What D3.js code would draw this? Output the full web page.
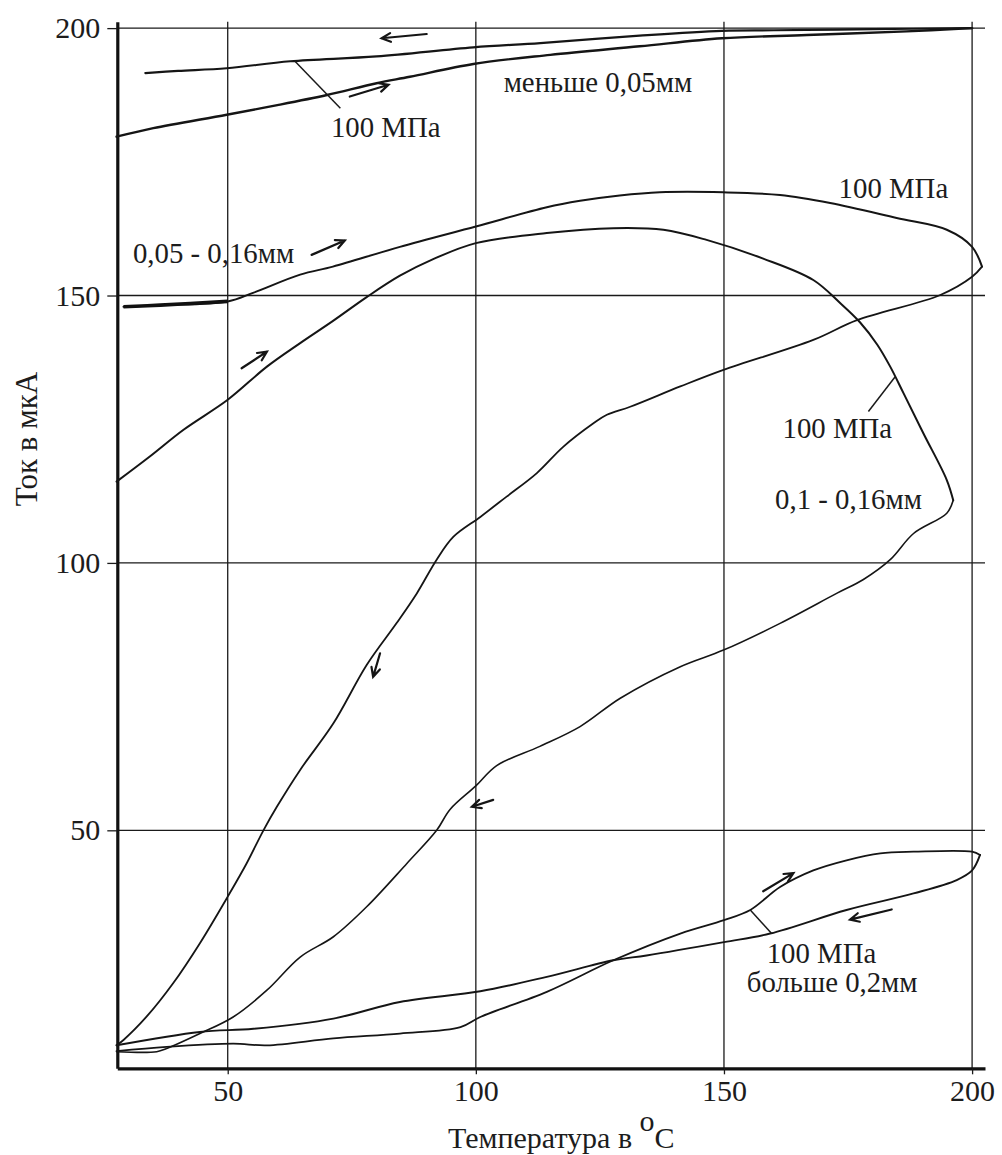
<!DOCTYPE html>
<html>
<head>
<meta charset="utf-8">
<script src="https://cdn.jsdelivr.net/npm/d3@7"></script>
<style>
  html, body { margin: 0; padding: 0; background: #fff; }
  svg { display: block; }
  text { font-family: "Liberation Serif", "Times New Roman", serif; fill: #1c1c1c; }
</style>
</head>
<body>
<svg id="chart" width="1002" height="1155"></svg>
<script>
// Axis ticks
const tempTicks = [50, 100, 150, 200];
const currTicks = [50, 100, 150, 200];

// Grain size below 0.05 mm, 100 MPa
const topHeatT = [27.6, 35, 49.8, 60, 70, 80, 86.7, 99.5, 115, 133, 149.6, 166.7, 186.8, 200];
const topHeatI = [179.7, 181.3, 183.8, 185.6, 187.5, 189.7, 190.9, 193.3, 195.0, 196.6, 198.1, 198.7, 199.4, 200];
const topCoolT = [200, 180, 160, 149.6, 133, 113, 99.5, 80, 62.6, 49.8, 40, 33.4];
const topCoolI = [200, 199.8, 199.6, 199.5, 198.6, 197.2, 196.4, 194.7, 193.8, 192.5, 192.0, 191.6];

// Grain size 0.05 - 0.16 mm, 100 MPa
const midAHeatT = [29, 36.4, 50, 55.1, 64.6, 71.2, 84.7, 100, 114.3, 121, 129, 137.1, 149.8, 161.3, 171.4, 184.8, 194.9, 200, 202];
const midAHeatI = [147.9, 148.2, 148.9, 150.5, 153.9, 155.4, 159.1, 162.9, 166.5, 167.7, 168.7, 169.3, 169.3, 168.8, 167.3, 164.5, 162.3, 159.1, 155.4];
const midACoolT = [202, 200, 193.6, 176.8, 168, 149.9, 141.2, 131.1, 126.4, 123.7, 117.6, 112.3, 106.2, 100.9, 95.5, 92.1, 88.1, 84.0, 78.0, 71.3, 64.6, 59.9, 57.2, 53.8, 50, 44.4, 39, 33.6, 29, 27.6];
const midACoolI = [155.4, 153.5, 150.1, 145.4, 141.7, 136.1, 133.0, 129.2, 127.7, 126.1, 121.7, 116.8, 112.4, 108.6, 104.9, 100.6, 94.3, 88.7, 80.9, 70.0, 61.3, 54.4, 50, 43.8, 37.6, 28.9, 21.4, 15.1, 10.8, 9.8];

// Grain size 0.1 - 0.16 mm, 100 MPa
const midBHeatT = [27.6, 34.3, 41.1, 50, 57.9, 64.6, 71.3, 78, 84.7, 91.4, 100, 114.3, 127.7, 137.8, 146.5, 157.9, 168, 173.4, 177.4, 180.9, 183.5, 186.2, 190.2, 194.9, 196.2];
const midBHeatI = [115.2, 119.9, 124.9, 130.5, 136.7, 141.1, 145.3, 149.7, 153.7, 156.8, 159.8, 161.7, 162.6, 162.3, 160.4, 156.9, 152.9, 148.6, 145.0, 140.8, 136.7, 131.7, 124.2, 115.5, 111.7];
const midBCoolT = [196.2, 194.9, 188.2, 183.5, 178.1, 172.7, 161.3, 149.9, 141.2, 129.1, 121, 112.9, 104.2, 100, 94.8, 92.1, 86.1, 78, 71.3, 64.6, 57.9, 51.1, 44.4, 37.7, 35.7, 27.6];
const midBCoolI = [111.7, 109.3, 105.5, 100.6, 96.9, 94.3, 88.7, 83.7, 80.6, 74.7, 69.4, 65.7, 62.1, 58.3, 53.9, 50, 43.8, 35.7, 30.1, 26.3, 20.1, 15.1, 12.0, 9.2, 8.6, 8.6];

// Grain size above 0.2 mm, 100 MPa
const lowHeatT = [27.6, 37.7, 51.1, 57.9, 71.3, 84.7, 96.9, 100.9, 114.3, 127.7, 141.2, 150, 155.3, 161.3, 168, 174.7, 181.5, 188.2, 200, 201.6];
const lowHeatI = [8.7, 9.5, 10.1, 9.8, 11.1, 12.0, 13.2, 15.1, 19.8, 25.7, 30.7, 33.2, 35.1, 39.4, 42.5, 44.4, 45.7, 46.0, 46.0, 45.4];
const lowCoolT = [201.6, 200, 196.9, 188.2, 174.7, 159.3, 150, 134.4, 127.7, 114.3, 100.9, 84.7, 71.3, 55.2, 44.4, 27.6];
const lowCoolI = [45.4, 42.5, 40.7, 38.2, 35.1, 30.7, 29.1, 26.6, 25.7, 22.6, 19.9, 17.9, 14.8, 12.9, 12.3, 9.8];

// Direction arrows: [tailT, tailI, headT, headI]
const arrows = [
  [90.1, 198.9, 81.0, 198.1],
  [74.6, 187.2, 82.4, 189.4],
  [66.9, 157.6, 73.6, 160.3],
  [52.8, 136.4, 57.9, 139.5],
  [80.7, 83.1, 79.3, 78.7],
  [103.5, 55.7, 99.2, 54.4],
  [157.9, 38.6, 164.0, 42.0],
  [183.8, 35.2, 175.4, 33.3]
];

// Leader lines: [fromT, fromI, toT, toI]
const leaders = [
  [63.6, 193.75, 72.7, 185.0],
  [184.5, 134.8, 179.1, 128.3],
  [155.3, 35.1, 159.6, 30.7]
];

// Curve labels: [text, T, I]
const labels = [
  ["меньше 0,05мм", 105.6, 188.1],
  ["100 МПа", 70.8, 179.7],
  ["0,05 - 0,16мм", 30.9, 156.1],
  ["100 МПа", 173.1, 168.3],
  ["100 МПа", 161.8, 123.3],
  ["0,1 - 0,16мм", 160.3, 110.0],
  ["100 МПа", 158.6, 25.2],
  ["больше 0,2мм", 154.6, 19.8]
];

const svg = d3.select("#chart");
svg.append("rect").attr("width", 1002).attr("height", 1155).attr("fill", "#fff");

const x = d3.scaleLinear().domain([27.75, 202.6]).range([117.3, 985]);
const y = d3.scaleLinear().domain([5.5, 201.2]).range([1068.3, 21.7]);

// Grid
const grid = svg.append("g").attr("stroke", "#1a1a1a").attr("stroke-width", 1.3);
grid.selectAll("line.h").data(currTicks).join("line")
  .attr("x1", x.range()[0]).attr("x2", x.range()[1])
  .attr("y1", d => y(d)).attr("y2", d => y(d));
grid.selectAll("line.v").data(tempTicks).join("line")
  .attr("x1", d => x(d)).attr("x2", d => x(d))
  .attr("y1", y.range()[1]).attr("y2", y.range()[0]);

// Axes
const yAxis = svg.append("g").attr("transform", `translate(${x.range()[0]},0)`)
  .call(d3.axisLeft(y).tickValues(currTicks).tickSize(10).tickSizeOuter(0).tickPadding(7));
const xAxis = svg.append("g").attr("transform", `translate(0,${y.range()[0]})`)
  .call(d3.axisBottom(x).tickValues(tempTicks).tickSize(6).tickSizeOuter(0).tickPadding(5));
[yAxis, xAxis].forEach(a => {
  a.select(".domain").attr("stroke", "#111").attr("stroke-width", 3.2);
  a.selectAll(".tick line").attr("stroke", "#1a1a1a").attr("stroke-width", 1.3);
  a.selectAll(".tick text").attr("font-size", 30).attr("fill", "#1c1c1c");
});

// Axis titles
svg.append("text")
  .attr("transform", "translate(36.5,439) rotate(-90)")
  .attr("text-anchor", "middle")
  .attr("font-size", 31)
  .text("Ток в мкА");

const xt = svg.append("text").attr("x", 448).attr("y", 1148).attr("font-size", 30);
xt.append("tspan").text("Температура в ");
xt.append("tspan").attr("dy", -17).text("o");
xt.append("tspan").attr("dy", 17).text("C");

// Curves
const zip = (ts, is) => ts.map((t, k) => [t, is[k]]);
const line = d3.line().x(d => x(d[0])).y(d => y(d[1])).curve(d3.curveCatmullRom.alpha(0.5));
const series = [
  { pts: zip(topHeatT, topHeatI), w: 2.4 },
  { pts: zip(topCoolT, topCoolI), w: 2.2 },
  { pts: zip(midAHeatT, midAHeatI), w: 2.0 },
  { pts: zip(midACoolT, midACoolI), w: 1.8 },
  { pts: zip(midBHeatT, midBHeatI), w: 2.0 },
  { pts: zip(midBCoolT, midBCoolI), w: 1.6 },
  { pts: zip(lowHeatT, lowHeatI), w: 1.8 },
  { pts: zip(lowCoolT, lowCoolI), w: 1.9 }
];
svg.append("g").selectAll("path").data(series).join("path")
  .attr("d", d => line(d.pts))
  .attr("fill", "none")
  .attr("stroke", "#151515")
  .attr("stroke-width", d => d.w)
  .attr("stroke-linejoin", "round")
  .attr("stroke-linecap", "round");

// Thick start of the 0.05 - 0.16 mm heating branch
svg.append("path")
  .attr("d", line(zip(midAHeatT.slice(0, 3), midAHeatI.slice(0, 3))))
  .attr("fill", "none").attr("stroke", "#111").attr("stroke-width", 3.6);

// Direction arrows
const ag = svg.append("g").attr("stroke", "#151515").attr("stroke-width", 2.2)
  .attr("fill", "none").attr("stroke-linecap", "round");
arrows.forEach(([t0, i0, t1, i1]) => {
  const x0 = x(t0), y0 = y(i0), x1 = x(t1), y1 = y(i1);
  const ang = Math.atan2(y1 - y0, x1 - x0);
  const len = 10, spread = 0.45;
  const b1 = [x1 - len * Math.cos(ang - spread), y1 - len * Math.sin(ang - spread)];
  const b2 = [x1 - len * Math.cos(ang + spread), y1 - len * Math.sin(ang + spread)];
  ag.append("path").attr("d", `M${x0},${y0}L${x1},${y1}M${b1[0]},${b1[1]}L${x1},${y1}L${b2[0]},${b2[1]}`);
});

// Leader lines
svg.append("g").selectAll("line").data(leaders).join("line")
  .attr("x1", d => x(d[0])).attr("y1", d => y(d[1]))
  .attr("x2", d => x(d[2])).attr("y2", d => y(d[3]))
  .attr("stroke", "#1a1a1a").attr("stroke-width", 1.5);

// Curve labels
svg.append("g").selectAll("text").data(labels).join("text")
  .attr("x", d => x(d[1])).attr("y", d => y(d[2]))
  .attr("font-size", 28.8)
  .text(d => d[0]);
</script>
</body>
</html>
